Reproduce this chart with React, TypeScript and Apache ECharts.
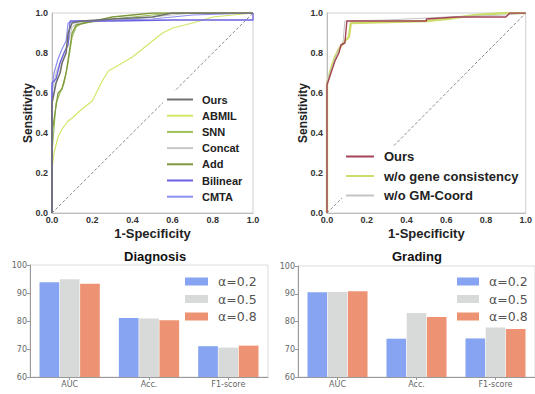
import React, { useEffect, useRef } from "react";
import * as echarts from "echarts";

// ROC tick labels
const rocTicks = [0, 0.2, 0.4, 0.6, 0.8, 1.0];

// Left ROC curves: [1-specificity, sensitivity]
const rocOurs = [[0,0],[0,0.55],[0.01,0.6],[0.02,0.65],[0.04,0.7],[0.05,0.75],[0.07,0.8],[0.08,0.9],[0.1,0.95],[0.15,0.96],[0.3,0.97],[0.5,0.98],[0.6,1.0],[1,1]];
const rocABMIL = [[0,0],[0,0.22],[0.01,0.3],[0.03,0.38],[0.05,0.42],[0.08,0.46],[0.1,0.475],[0.15,0.52],[0.2,0.56],[0.25,0.66],[0.28,0.71],[0.35,0.75],[0.4,0.78],[0.45,0.82],[0.5,0.86],[0.55,0.9],[0.6,0.925],[0.7,0.95],[0.8,0.98],[0.9,0.99],[1,1]];
const rocSNN = [[0,0],[0,0.3],[0.02,0.55],[0.04,0.6],[0.06,0.65],[0.08,0.75],[0.1,0.88],[0.12,0.93],[0.15,0.95],[0.3,0.97],[0.5,0.99],[0.6,1],[1,1]];
const rocConcat = [[0,0],[0,0.6],[0.02,0.7],[0.05,0.78],[0.08,0.85],[0.1,0.93],[0.13,0.95],[0.4,0.97],[0.7,1],[1,1]];
const rocAdd = [[0,0],[0,0.4],[0.03,0.6],[0.05,0.62],[0.07,0.7],[0.1,0.9],[0.12,0.94],[0.3,0.98],[0.5,1],[1,1]];
const rocBilinear = [[0,0],[0,0.65],[0.02,0.67],[0.04,0.75],[0.06,0.8],[0.08,0.84],[0.09,0.96],[0.3,0.96],[0.6,0.965],[1,0.965],[1,1]];
const rocCMTA = [[0,0],[0,0.62],[0.01,0.7],[0.03,0.77],[0.05,0.82],[0.07,0.86],[0.08,0.95],[0.12,0.96],[0.5,0.97],[0.7,0.99],[1,1]];

// Right ROC curves (ablation)
const ablOurs = [[0,0],[0,0.64],[0.02,0.7],[0.04,0.76],[0.06,0.8],[0.07,0.84],[0.09,0.85],[0.1,0.96],[0.5,0.96],[0.5,0.97],[0.65,0.98],[0.9,0.98],[0.92,1],[1,1]];
const ablGene = [[0,0],[0,0.65],[0.02,0.72],[0.04,0.78],[0.06,0.82],[0.09,0.86],[0.11,0.88],[0.12,0.95],[0.5,0.96],[0.6,0.97],[0.75,0.99],[0.9,1],[1,1]];
const ablGM = [[0,0],[0,0.66],[0.03,0.74],[0.05,0.8],[0.08,0.85],[0.09,0.96],[0.3,0.965],[0.6,0.98],[0.9,0.99],[1,1]];

const diagonal = [[0,0],[1,1]];

// Bar charts
const metrics = ["AUC", "Acc.", "F1-score"];
const alphaNames = ["α=0.2", "α=0.5", "α=0.8"];
const diagA02 = [93.8, 81.1, 71.0];
const diagA05 = [94.9, 80.9, 70.5];
const diagA08 = [93.3, 80.3, 71.2];
const gradA02 = [90.5, 73.8, 73.9];
const gradA05 = [90.6, 83.1, 77.8];
const gradA08 = [90.9, 81.6, 77.3];
const barTicks = [60, 70, 80, 90, 100];

const barColors = ["#7f9ff0", "#d6d7d7", "#ec8d6c"];

export default function App() {
  const ref = useRef<HTMLDivElement>(null);
  useEffect(() => {
    document.body.style.margin = "0";
    const chart = echarts.init(ref.current!, undefined, { renderer: "svg" });
    const bold = { fontFamily: "Liberation Sans", fontWeight: "bold" as const };
    const rocX = (gi: number) => ({
      type: "value", gridIndex: gi, min: 0, max: 1, interval: 0.2,
      name: "1-Specificity", nameLocation: "middle", nameGap: 14, nameMoveOverlap: false,
      nameTextStyle: { ...bold, fontSize: 13, color: "#222" },
      axisLine: { show: true, lineStyle: { color: "#bbb" } },
      axisTick: { show: false },
      splitLine: { show: false },
      axisLabel: { ...bold, fontSize: 9, color: "#333", margin: 2, formatter: (v: number) => (rocTicks.some((t) => Math.abs(t - v) < 1e-9) ? v.toFixed(1) : "") },
    });
    const rocY = (gi: number) => ({
      type: "value", gridIndex: gi, min: 0, max: 1, interval: 0.2,
      name: "Sensitivity", nameLocation: "middle", nameGap: 18, nameMoveOverlap: false,
      nameTextStyle: { ...bold, fontSize: 12, color: "#222" },
      axisLine: { show: true, lineStyle: { color: "#bbb" } },
      axisTick: { show: false },
      splitLine: { show: false },
      axisLabel: { ...bold, fontSize: 9, color: "#333", margin: 4, formatter: (v: number) => v.toFixed(1) },
    });
    const barX = (gi: number) => ({
      type: "category", gridIndex: gi, data: metrics,
      axisLine: { show: true, lineStyle: { color: "#999" } },
      axisTick: { show: true, alignWithLabel: true, length: 3, lineStyle: { color: "#999" } },
      axisLabel: { fontFamily: "DejaVu Sans", fontSize: 8, color: "#666", margin: 3 },
    });
    const barY = (gi: number) => ({
      type: "value", gridIndex: gi, min: 60, max: 100, interval: 10,
      axisLine: { show: true, lineStyle: { color: "#999" } },
      axisTick: { show: true, length: 3, lineStyle: { color: "#999" } },
      splitLine: { show: false },
      axisLabel: { fontFamily: "DejaVu Sans", fontSize: 8, color: "#666", margin: 3, formatter: (v: number) => (barTicks.includes(v) ? String(v) : "") },
    });
    const line = (name: string, data: number[][], color: string, width: number, gi: number, z = 2) => ({
      type: "line", name, data, xAxisIndex: gi, yAxisIndex: gi,
      showSymbol: false, symbol: "none", z,
      lineStyle: { color, width }, itemStyle: { color },
    });
    const bar = (name: string, data: number[], color: string, gi: number) => ({
      type: "bar", name, data, xAxisIndex: gi, yAxisIndex: gi,
      barGap: "3%", barCategoryGap: "24%",
      itemStyle: { color, opacity: 0.95 },
    });
    const diag = (gi: number) => ({
      type: "line", name: "diag", data: diagonal, xAxisIndex: gi, yAxisIndex: gi,
      showSymbol: false, symbol: "none", z: 1,
      lineStyle: { color: "#888", width: 1, type: [3, 2] },
    });

    chart.setOption({
      animation: false,
      backgroundColor: "#fff",
      title: [
        { text: "Diagnosis", left: 121, top: 249, padding: [1, 3], backgroundColor: "#fff", textStyle: { ...bold, fontSize: 13, color: "#111" } },
        { text: "Grading", left: 389, top: 249, padding: [1, 3], backgroundColor: "#fff", textStyle: { ...bold, fontSize: 13, color: "#111" } },
      ],
      grid: [
        { left: 52, top: 13, width: 201, height: 200, show: true, borderColor: "#d0d0d0", borderWidth: 1 },
        { left: 327, top: 13, width: 204, height: 200, show: true, borderColor: "#d0d0d0", borderWidth: 1 },
        { left: 30, top: 265, width: 238, height: 112, show: true, borderColor: "#dcdcdc", borderWidth: 1 },
        { left: 298, top: 266, width: 252, height: 111, show: true, borderColor: "#dcdcdc", borderWidth: 1 },
      ],
      xAxis: [rocX(0), rocX(1), barX(2), barX(3)],
      yAxis: [rocY(0), rocY(1), barY(2), barY(3)],
      legend: [
        {
          data: ["Ours", "ABMIL", "SNN", "Concat", "Add", "Bilinear", "CMTA"],
          orient: "vertical", left: 163, top: 91, padding: [3, 4, 3, 4],
          backgroundColor: "#fff", itemWidth: 26, itemHeight: 2, itemGap: 5.2, icon: "rect",
          textStyle: { ...bold, fontSize: 11, color: "#222", padding: [0, 0, 0, 4] },
          selectedMode: false,
        },
        {
          data: ["OursAbl", "w/o gene consistency", "w/o GM-Coord"],
          orient: "vertical", left: 342, top: 147, padding: [3, 4, 3, 4],
          backgroundColor: "#fff", itemWidth: 28, itemHeight: 2, itemGap: 6.5, icon: "rect",
          formatter: (n: string) => (n === "OursAbl" ? "Ours" : n),
          textStyle: { ...bold, fontSize: 13, color: "#222", padding: [0, 0, 0, 5] },
          selectedMode: false,
        },
        {
          data: alphaNames, orient: "vertical", left: 185, top: 275, padding: 0,
          itemWidth: 23, itemHeight: 8, itemGap: 4.5, icon: "rect",
          textStyle: { fontFamily: "DejaVu Sans", fontSize: 12.5, color: "#555", padding: [0, 0, 0, 5] },
          selectedMode: false,
        },
        {
          data: alphaNames, orient: "vertical", left: 457, top: 275, padding: 0,
          itemWidth: 22, itemHeight: 8, itemGap: 4.5, icon: "rect",
          textStyle: { fontFamily: "DejaVu Sans", fontSize: 12.5, color: "#555", padding: [0, 0, 0, 5] },
          selectedMode: false,
        },
      ],
      series: [
        diag(0),
        line("ABMIL", rocABMIL, "#d4e56a", 1.2, 0),
        line("Concat", rocConcat, "#c8c8c8", 1.2, 0),
        line("SNN", rocSNN, "#9cc05a", 1.2, 0),
        line("Add", rocAdd, "#7f9a3c", 1.3, 0),
        line("CMTA", rocCMTA, "#8c8ff0", 1.2, 0),
        line("Bilinear", rocBilinear, "#6a62e0", 1.3, 0),
        line("Ours", rocOurs, "#707070", 1.6, 0, 3),
        diag(1),
        line("w/o gene consistency", ablGene, "#cddc6a", 2.4, 1),
        line("w/o GM-Coord", ablGM, "#c4c4c4", 1.0, 1),
        line("OursAbl", ablOurs, "#a34455", 1.4, 1, 3),
        bar(alphaNames[0], diagA02, barColors[0], 2),
        bar(alphaNames[1], diagA05, barColors[1], 2),
        bar(alphaNames[2], diagA08, barColors[2], 2),
        bar(alphaNames[0], gradA02, barColors[0], 3),
        bar(alphaNames[1], gradA05, barColors[1], 3),
        bar(alphaNames[2], gradA08, barColors[2], 3),
      ],
    });
    return () => chart.dispose();
  }, []);
  return <div ref={ref} style={{ width: 535, height: 394 }} />;
}
